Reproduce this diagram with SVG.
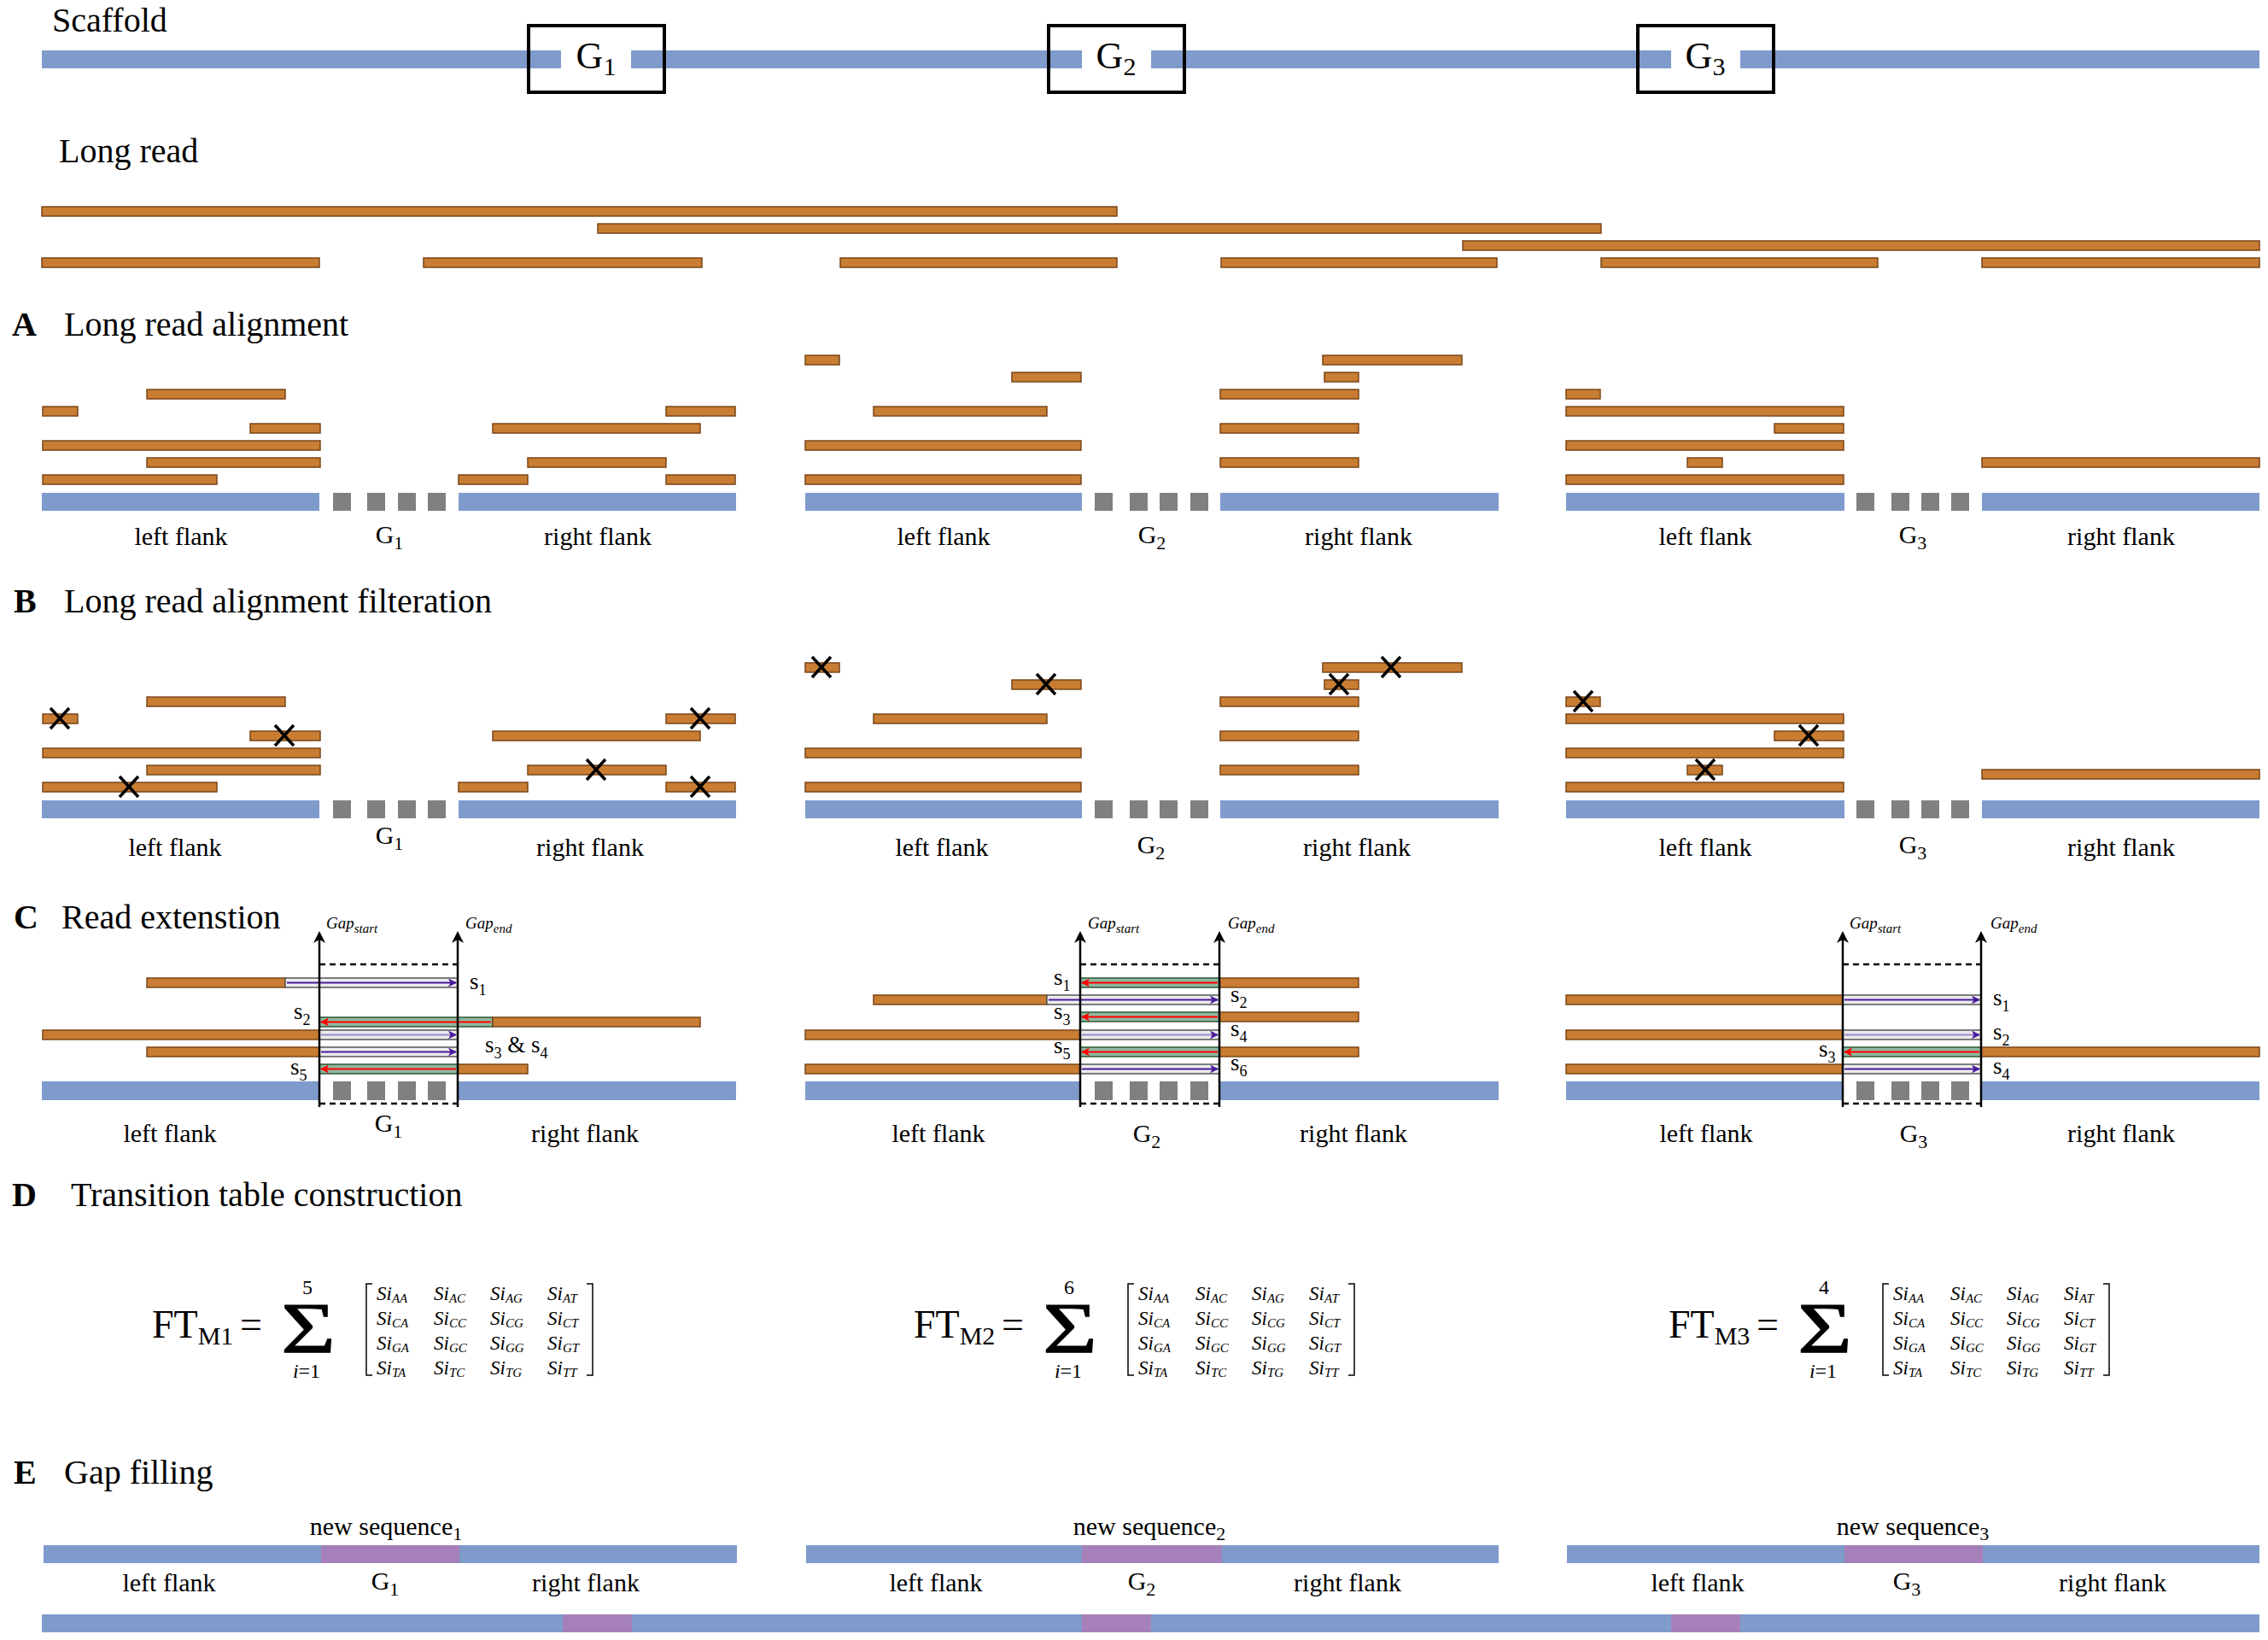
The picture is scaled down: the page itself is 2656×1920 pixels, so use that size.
<svg xmlns="http://www.w3.org/2000/svg" width="2656" height="1920" viewBox="0 0 2656 1920">
<style>
text{font-family:"Liberation Serif","Times New Roman",serif;fill:#000}
.b{fill:#7f9bcc}
.r{fill:#c87d33;stroke:#7a4619;stroke-width:1.5}
.q{fill:#808080}
.p{fill:#a680b8}
.ge{fill:#ececec;stroke:#555;stroke-width:1.5}
.gr{fill:#8fb8a0;stroke:#2c5a34;stroke-width:1.5}
.x{stroke:#000;stroke-width:3.5;fill:none}
.h{font-size:40px}
.hb{font-size:40px;font-weight:bold}
.lb{font-size:30px;text-anchor:middle}
.sub{font-size:22px}
.gl{font-size:19px;font-style:italic}
.gs{font-size:15px;font-style:italic}
.sl{font-size:27px}
.ss{font-size:18px}
.vl{stroke:#000;stroke-width:2.5}
.ds{stroke:#000;stroke-width:2.5;stroke-dasharray:7 5}
.pa{stroke:#4a1a9c;stroke-width:1.8;marker-end:url(#ap)}
.pl{stroke:#a89ad0;stroke-width:2.5;marker-end:url(#ap)}
.ra{stroke:#f00;stroke-width:1.8;marker-end:url(#ar)}
.si{font-size:23px;font-style:italic}
.sis{font-size:15px;font-style:italic}
.br{stroke:#000;stroke-width:1.5;fill:none}
.sg{font-size:84px;text-anchor:middle;stroke:#000;stroke-width:1.2}
</style>
<defs>
<marker id="ap" markerUnits="userSpaceOnUse" markerWidth="10" markerHeight="10" refX="9" refY="5" orient="auto"><path d="M0,0 L10,5 L0,10 L2.5,5 Z" fill="#4a1a9c"/></marker>
<marker id="ar" markerUnits="userSpaceOnUse" markerWidth="10" markerHeight="10" refX="9" refY="5" orient="auto"><path d="M0,0 L10,5 L0,10 L2.5,5 Z" fill="#f00"/></marker>
<path id="xm" d="M-11,-12 L11,12 M-11,12 L11,-12"/>
</defs>
<rect width="2656" height="1920" fill="#fff"/>

<g id="scaffold">
<text class="h" x="61" y="37">Scaffold</text>
<rect class="b" x="49" y="59" width="608" height="21"/>
<rect class="b" x="739" y="59" width="528" height="21"/>
<rect class="b" x="1348" y="59" width="609" height="21"/>
<rect class="b" x="2038" y="59" width="608" height="21"/>
<rect x="619" y="30" width="159" height="78" fill="none" stroke="#000" stroke-width="4"/>
<rect x="1228" y="30" width="159" height="78" fill="none" stroke="#000" stroke-width="4"/>
<rect x="1918" y="30" width="159" height="78" fill="none" stroke="#000" stroke-width="4"/>
<text x="698" y="80" font-size="44" text-anchor="middle">G<tspan font-size="30" dy="8">1</tspan></text>
<text x="1307" y="80" font-size="44" text-anchor="middle">G<tspan font-size="30" dy="8">2</tspan></text>
<text x="1997" y="80" font-size="44" text-anchor="middle">G<tspan font-size="30" dy="8">3</tspan></text>
</g>

<g id="longreads">
<text class="h" x="69" y="190">Long read</text>
<rect class="r" x="49" y="242" width="1259" height="11"/>
<rect class="r" x="700" y="262" width="1175" height="11"/>
<rect class="r" x="1713" y="282" width="933" height="11"/>
<rect class="r" x="49" y="302" width="325" height="11"/>
<rect class="r" x="496" y="302" width="326" height="11"/>
<rect class="r" x="984" y="302" width="324" height="11"/>
<rect class="r" x="1430" y="302" width="323" height="11"/>
<rect class="r" x="1875" y="302" width="324" height="11"/>
<rect class="r" x="2321" y="302" width="325" height="11"/>
</g>

<g id="sectionA">
<text class="hb" x="14" y="393">A</text><text class="h" x="75" y="393">Long read alignment</text>
<g id="A1">
<rect class="b" x="49" y="577" width="325" height="21"/>
<rect class="q" x="390" y="577" width="21" height="21"/><rect class="q" x="430" y="577" width="21" height="21"/><rect class="q" x="466" y="577" width="21" height="21"/><rect class="q" x="501" y="577" width="21" height="21"/>
<rect class="b" x="537" y="577" width="325" height="21"/>
<rect class="r" x="172" y="456" width="162" height="11"/>
<rect class="r" x="50" y="476" width="41" height="11"/>
<rect class="r" x="780" y="476" width="81" height="11"/>
<rect class="r" x="293" y="496" width="82" height="11"/>
<rect class="r" x="577" y="496" width="243" height="11"/>
<rect class="r" x="50" y="516" width="325" height="11"/>
<rect class="r" x="172" y="536" width="203" height="11"/>
<rect class="r" x="618" y="536" width="162" height="11"/>
<rect class="r" x="50" y="556" width="204" height="11"/>
<rect class="r" x="537" y="556" width="81" height="11"/>
<rect class="r" x="780" y="556" width="81" height="11"/>
<text class="lb" x="212" y="638">left flank</text>
<text class="lb" x="456" y="636">G<tspan class="sub" dy="7">1</tspan></text>
<text class="lb" x="700" y="638">right flank</text>
</g>
<g id="A2">
<rect class="b" x="943" y="577" width="324" height="21"/>
<rect class="q" x="1282" y="577" width="21" height="21"/><rect class="q" x="1323" y="577" width="21" height="21"/><rect class="q" x="1358" y="577" width="21" height="21"/><rect class="q" x="1394" y="577" width="21" height="21"/>
<rect class="b" x="1429" y="577" width="326" height="21"/>
<rect class="r" x="943" y="416" width="40" height="11"/>
<rect class="r" x="1549" y="416" width="163" height="11"/>
<rect class="r" x="1185" y="436" width="81" height="11"/>
<rect class="r" x="1551" y="436" width="40" height="11"/>
<rect class="r" x="1429" y="456" width="162" height="11"/>
<rect class="r" x="1023" y="476" width="203" height="11"/>
<rect class="r" x="1429" y="496" width="162" height="11"/>
<rect class="r" x="943" y="516" width="323" height="11"/>
<rect class="r" x="1429" y="536" width="162" height="11"/>
<rect class="r" x="943" y="556" width="323" height="11"/>
<text class="lb" x="1105" y="638">left flank</text>
<text class="lb" x="1349" y="636">G<tspan class="sub" dy="7">2</tspan></text>
<text class="lb" x="1591" y="638">right flank</text>
</g>
<g id="A3">
<rect class="b" x="1834" y="577" width="326" height="21"/>
<rect class="q" x="2174" y="577" width="21" height="21"/><rect class="q" x="2215" y="577" width="21" height="21"/><rect class="q" x="2250" y="577" width="21" height="21"/><rect class="q" x="2285" y="577" width="21" height="21"/>
<rect class="b" x="2321" y="577" width="325" height="21"/>
<rect class="r" x="1834" y="456" width="40" height="11"/>
<rect class="r" x="1834" y="476" width="325" height="11"/>
<rect class="r" x="2078" y="496" width="81" height="11"/>
<rect class="r" x="1834" y="516" width="325" height="11"/>
<rect class="r" x="1976" y="536" width="41" height="11"/>
<rect class="r" x="2321" y="536" width="325" height="11"/>
<rect class="r" x="1834" y="556" width="325" height="11"/>
<text class="lb" x="1997" y="638">left flank</text>
<text class="lb" x="2240" y="636">G<tspan class="sub" dy="7">3</tspan></text>
<text class="lb" x="2484" y="638">right flank</text>
</g>
</g>

<g id="sectionB">
<text class="hb" x="16" y="717">B</text><text class="h" x="75" y="717">Long read alignment filteration</text>
<g id="B1">
<rect class="b" x="49" y="937" width="325" height="21"/>
<rect class="q" x="390" y="937" width="21" height="21"/><rect class="q" x="430" y="937" width="21" height="21"/><rect class="q" x="466" y="937" width="21" height="21"/><rect class="q" x="501" y="937" width="21" height="21"/>
<rect class="b" x="537" y="937" width="325" height="21"/>
<rect class="r" x="172" y="816" width="162" height="11"/>
<rect class="r" x="50" y="836" width="41" height="11"/>
<rect class="r" x="780" y="836" width="81" height="11"/>
<rect class="r" x="293" y="856" width="82" height="11"/>
<rect class="r" x="577" y="856" width="243" height="11"/>
<rect class="r" x="50" y="876" width="325" height="11"/>
<rect class="r" x="172" y="896" width="203" height="11"/>
<rect class="r" x="618" y="896" width="162" height="11"/>
<rect class="r" x="50" y="916" width="204" height="11"/>
<rect class="r" x="537" y="916" width="81" height="11"/>
<rect class="r" x="780" y="916" width="81" height="11"/>
<use href="#xm" class="x" x="70" y="841"/>
<use href="#xm" class="x" x="333" y="861"/>
<use href="#xm" class="x" x="151" y="921"/>
<use href="#xm" class="x" x="820" y="841"/>
<use href="#xm" class="x" x="698" y="901"/>
<use href="#xm" class="x" x="820" y="921"/>
<text class="lb" x="205" y="1002">left flank</text>
<text class="lb" x="456" y="988">G<tspan class="sub" dy="7">1</tspan></text>
<text class="lb" x="691" y="1002">right flank</text>
</g>
<g id="B2">
<rect class="b" x="943" y="937" width="324" height="21"/>
<rect class="q" x="1282" y="937" width="21" height="21"/><rect class="q" x="1323" y="937" width="21" height="21"/><rect class="q" x="1358" y="937" width="21" height="21"/><rect class="q" x="1394" y="937" width="21" height="21"/>
<rect class="b" x="1429" y="937" width="326" height="21"/>
<rect class="r" x="943" y="776" width="40" height="11"/>
<rect class="r" x="1549" y="776" width="163" height="11"/>
<rect class="r" x="1185" y="796" width="81" height="11"/>
<rect class="r" x="1551" y="796" width="40" height="11"/>
<rect class="r" x="1429" y="816" width="162" height="11"/>
<rect class="r" x="1023" y="836" width="203" height="11"/>
<rect class="r" x="1429" y="856" width="162" height="11"/>
<rect class="r" x="943" y="876" width="323" height="11"/>
<rect class="r" x="1429" y="896" width="162" height="11"/>
<rect class="r" x="943" y="916" width="323" height="11"/>
<use href="#xm" class="x" x="962" y="781"/>
<use href="#xm" class="x" x="1225" y="801"/>
<use href="#xm" class="x" x="1629" y="781"/>
<use href="#xm" class="x" x="1568" y="801"/>
<text class="lb" x="1103" y="1002">left flank</text>
<text class="lb" x="1348" y="999">G<tspan class="sub" dy="7">2</tspan></text>
<text class="lb" x="1589" y="1002">right flank</text>
</g>
<g id="B3">
<rect class="b" x="1834" y="937" width="326" height="21"/>
<rect class="q" x="2174" y="937" width="21" height="21"/><rect class="q" x="2215" y="937" width="21" height="21"/><rect class="q" x="2250" y="937" width="21" height="21"/><rect class="q" x="2285" y="937" width="21" height="21"/>
<rect class="b" x="2321" y="937" width="325" height="21"/>
<rect class="r" x="1834" y="816" width="40" height="11"/>
<rect class="r" x="1834" y="836" width="325" height="11"/>
<rect class="r" x="2078" y="856" width="81" height="11"/>
<rect class="r" x="1834" y="876" width="325" height="11"/>
<rect class="r" x="1976" y="896" width="41" height="11"/>
<rect class="r" x="2321" y="901" width="325" height="11"/>
<rect class="r" x="1834" y="916" width="325" height="11"/>
<use href="#xm" class="x" x="1854" y="821"/>
<use href="#xm" class="x" x="2118" y="861"/>
<use href="#xm" class="x" x="1997" y="901"/>
<text class="lb" x="1997" y="1002">left flank</text>
<text class="lb" x="2240" y="999">G<tspan class="sub" dy="7">3</tspan></text>
<text class="lb" x="2484" y="1002">right flank</text>
</g>
</g>

<g id="sectionC">
<text class="hb" x="16" y="1087">C</text><text class="h" x="72" y="1087">Read extenstion</text>
<g id="C1">
<rect class="b" x="49" y="1266" width="325" height="22"/>
<rect class="q" x="390" y="1266" width="21" height="22"/><rect class="q" x="430" y="1266" width="21" height="22"/><rect class="q" x="466" y="1266" width="21" height="22"/><rect class="q" x="501" y="1266" width="21" height="22"/>
<rect class="b" x="536" y="1266" width="326" height="22"/>
<rect class="r" x="172" y="1145" width="162" height="11"/><rect class="ge" x="334" y="1145" width="202" height="11"/>
<rect class="gr" x="374" y="1191" width="203" height="11"/><rect class="r" x="577" y="1191" width="243" height="11"/>
<rect class="r" x="50" y="1206" width="324" height="11"/><rect class="ge" x="374" y="1206" width="162" height="11"/>
<rect class="r" x="172" y="1226" width="202" height="11"/><rect class="ge" x="374" y="1226" width="162" height="11"/>
<rect class="gr" x="374" y="1246" width="162" height="11"/><rect class="r" x="536" y="1246" width="82" height="11"/>
<text class="sl" x="550" y="1158">s<tspan class="ss" dy="7">1</tspan></text>
<text class="sl" x="344" y="1193">s<tspan class="ss" dy="7">2</tspan></text>
<text class="sl" x="568" y="1232">s<tspan class="ss" dy="7">3</tspan><tspan dy="-7"> &amp; s</tspan><tspan class="ss" dy="7">4</tspan></text>
<text class="sl" x="340" y="1258">s<tspan class="ss" dy="7">5</tspan></text>
<text class="gl" x="382" y="1087">Gap<tspan class="gs" dy="5">start</tspan></text>
<text class="gl" x="545" y="1087">Gap<tspan class="gs" dy="5">end</tspan></text>
<text class="lb" x="199" y="1337">left flank</text>
<text class="lb" x="455" y="1325">G<tspan class="sub" dy="7">1</tspan></text>
<text class="lb" x="685" y="1337">right flank</text>
</g>
<g id="C2">
<rect class="b" x="943" y="1266" width="322" height="22"/>
<rect class="q" x="1282" y="1266" width="21" height="22"/><rect class="q" x="1323" y="1266" width="21" height="22"/><rect class="q" x="1358" y="1266" width="21" height="22"/><rect class="q" x="1394" y="1266" width="21" height="22"/>
<rect class="b" x="1428" y="1266" width="327" height="22"/>
<rect class="gr" x="1265" y="1145" width="163" height="11"/><rect class="r" x="1428" y="1145" width="163" height="11"/>
<rect class="r" x="1023" y="1165" width="203" height="11"/><rect class="ge" x="1226" y="1165" width="202" height="11"/>
<rect class="gr" x="1265" y="1185" width="163" height="11"/><rect class="r" x="1428" y="1185" width="163" height="11"/>
<rect class="r" x="943" y="1206" width="322" height="11"/><rect class="ge" x="1265" y="1206" width="163" height="11"/>
<rect class="gr" x="1265" y="1226" width="163" height="11"/><rect class="r" x="1428" y="1226" width="163" height="11"/>
<rect class="r" x="943" y="1246" width="322" height="11"/><rect class="ge" x="1265" y="1246" width="163" height="11"/>
<text class="sl" x="1234" y="1153">s<tspan class="ss" dy="7">1</tspan></text>
<text class="sl" x="1441" y="1173">s<tspan class="ss" dy="7">2</tspan></text>
<text class="sl" x="1234" y="1193">s<tspan class="ss" dy="7">3</tspan></text>
<text class="sl" x="1441" y="1213">s<tspan class="ss" dy="7">4</tspan></text>
<text class="sl" x="1234" y="1233">s<tspan class="ss" dy="7">5</tspan></text>
<text class="sl" x="1441" y="1253">s<tspan class="ss" dy="7">6</tspan></text>
<text class="gl" x="1274" y="1087">Gap<tspan class="gs" dy="5">start</tspan></text>
<text class="gl" x="1438" y="1087">Gap<tspan class="gs" dy="5">end</tspan></text>
<text class="lb" x="1099" y="1337">left flank</text>
<text class="lb" x="1343" y="1337">G<tspan class="sub" dy="7">2</tspan></text>
<text class="lb" x="1585" y="1337">right flank</text>
</g>
<g id="C3">
<rect class="b" x="1834" y="1266" width="324" height="22"/>
<rect class="q" x="2174" y="1266" width="21" height="22"/><rect class="q" x="2215" y="1266" width="21" height="22"/><rect class="q" x="2250" y="1266" width="21" height="22"/><rect class="q" x="2285" y="1266" width="21" height="22"/>
<rect class="b" x="2320" y="1266" width="326" height="22"/>
<rect class="r" x="1834" y="1165" width="324" height="11"/><rect class="ge" x="2158" y="1165" width="162" height="11"/>
<rect class="r" x="1834" y="1206" width="324" height="11"/><rect class="ge" x="2158" y="1206" width="162" height="11"/>
<rect class="gr" x="2158" y="1226" width="162" height="11"/><rect class="r" x="2320" y="1226" width="326" height="11"/>
<rect class="r" x="1834" y="1246" width="324" height="11"/><rect class="ge" x="2158" y="1246" width="162" height="11"/>
<text class="sl" x="2334" y="1177">s<tspan class="ss" dy="7">1</tspan></text>
<text class="sl" x="2334" y="1217">s<tspan class="ss" dy="7">2</tspan></text>
<text class="sl" x="2130" y="1237">s<tspan class="ss" dy="7">3</tspan></text>
<text class="sl" x="2334" y="1257">s<tspan class="ss" dy="7">4</tspan></text>
<text class="gl" x="2166" y="1087">Gap<tspan class="gs" dy="5">start</tspan></text>
<text class="gl" x="2331" y="1087">Gap<tspan class="gs" dy="5">end</tspan></text>
<text class="lb" x="1998" y="1337">left flank</text>
<text class="lb" x="2241" y="1337">G<tspan class="sub" dy="7">3</tspan></text>
<text class="lb" x="2484" y="1337">right flank</text>
</g>
</g>

<g id="connectors">
<line class="pa" x1="336" y1="1150.5" x2="534" y2="1150.5"/>
<line class="ra" x1="575" y1="1196.5" x2="376" y2="1196.5"/>
<line class="pl" x1="376" y1="1211.5" x2="534" y2="1211.5"/>
<line class="pa" x1="376" y1="1231.5" x2="534" y2="1231.5"/>
<line class="ra" x1="534" y1="1251.5" x2="376" y2="1251.5"/>
<line class="ra" x1="1426" y1="1150.5" x2="1267" y2="1150.5"/>
<line class="pa" x1="1228" y1="1170.5" x2="1426" y2="1170.5"/>
<line class="ra" x1="1426" y1="1190.5" x2="1267" y2="1190.5"/>
<line class="pl" x1="1267" y1="1211.5" x2="1426" y2="1211.5"/>
<line class="ra" x1="1426" y1="1231.5" x2="1267" y2="1231.5"/>
<line class="pa" x1="1267" y1="1251.5" x2="1426" y2="1251.5"/>
<line class="pa" x1="2160" y1="1170.5" x2="2318" y2="1170.5"/>
<line class="pl" x1="2160" y1="1211.5" x2="2318" y2="1211.5"/>
<line class="ra" x1="2318" y1="1231.5" x2="2160" y2="1231.5"/>
<line class="pa" x1="2160" y1="1251.5" x2="2318" y2="1251.5"/>
<line class="ds" x1="374" y1="1129" x2="536" y2="1129"/><line class="ds" x1="374" y1="1292" x2="536" y2="1292"/>
<line class="ds" x1="1265" y1="1129" x2="1428" y2="1129"/><line class="ds" x1="1265" y1="1292" x2="1428" y2="1292"/>
<line class="ds" x1="2158" y1="1129" x2="2320" y2="1129"/><line class="ds" x1="2158" y1="1292" x2="2320" y2="1292"/>
<line class="vl" x1="374" y1="1296" x2="374" y2="1098"/><path d="M374,1090 L367,1104 L374,1100 L381,1104 Z"/>
<line class="vl" x1="536" y1="1296" x2="536" y2="1098"/><path d="M536,1090 L529,1104 L536,1100 L543,1104 Z"/>
<line class="vl" x1="1265" y1="1296" x2="1265" y2="1098"/><path d="M1265,1090 L1258,1104 L1265,1100 L1272,1104 Z"/>
<line class="vl" x1="1428" y1="1296" x2="1428" y2="1098"/><path d="M1428,1090 L1421,1104 L1428,1100 L1435,1104 Z"/>
<line class="vl" x1="2158" y1="1296" x2="2158" y2="1098"/><path d="M2158,1090 L2151,1104 L2158,1100 L2165,1104 Z"/>
<line class="vl" x1="2320" y1="1296" x2="2320" y2="1098"/><path d="M2320,1090 L2313,1104 L2320,1100 L2327,1104 Z"/>
</g>

<g id="sectionD">
<text class="hb" x="14" y="1412">D</text><text class="h" x="83" y="1412">Transition table construction</text>
<g id="D1">
<text x="178" y="1566" font-size="46">FT<tspan font-size="30" dy="8">M1</tspan></text>
<text x="281" y="1566" font-size="46">=</text>
<text class="sg" transform="translate(361,1584) scale(1.3,1)">Σ</text>
<text x="360" y="1515" font-size="24" text-anchor="middle">5</text>
<text x="359" y="1613" font-size="24" text-anchor="middle"><tspan font-style="italic">i</tspan>=1</text>
<path class="br" d="M436,1503 H429 V1610 H436 M687,1503 H694 V1610 H687"/>
<text class="si" x="441" y="1522">Si<tspan class="sis" dy="3">AA</tspan></text><text class="si" x="508" y="1522">Si<tspan class="sis" dy="3">AC</tspan></text><text class="si" x="574" y="1522">Si<tspan class="sis" dy="3">AG</tspan></text><text class="si" x="641" y="1522">Si<tspan class="sis" dy="3">AT</tspan></text>
<text class="si" x="441" y="1551">Si<tspan class="sis" dy="3">CA</tspan></text><text class="si" x="508" y="1551">Si<tspan class="sis" dy="3">CC</tspan></text><text class="si" x="574" y="1551">Si<tspan class="sis" dy="3">CG</tspan></text><text class="si" x="641" y="1551">Si<tspan class="sis" dy="3">CT</tspan></text>
<text class="si" x="441" y="1580">Si<tspan class="sis" dy="3">GA</tspan></text><text class="si" x="508" y="1580">Si<tspan class="sis" dy="3">GC</tspan></text><text class="si" x="574" y="1580">Si<tspan class="sis" dy="3">GG</tspan></text><text class="si" x="641" y="1580">Si<tspan class="sis" dy="3">GT</tspan></text>
<text class="si" x="441" y="1609">Si<tspan class="sis" dy="3">TA</tspan></text><text class="si" x="508" y="1609">Si<tspan class="sis" dy="3">TC</tspan></text><text class="si" x="574" y="1609">Si<tspan class="sis" dy="3">TG</tspan></text><text class="si" x="641" y="1609">Si<tspan class="sis" dy="3">TT</tspan></text>
</g>
<g id="D2" transform="translate(892,0)">
<text x="178" y="1566" font-size="46">FT<tspan font-size="30" dy="8">M2</tspan></text>
<text x="281" y="1566" font-size="46">=</text>
<text class="sg" transform="translate(361,1584) scale(1.3,1)">Σ</text>
<text x="360" y="1515" font-size="24" text-anchor="middle">6</text>
<text x="359" y="1613" font-size="24" text-anchor="middle"><tspan font-style="italic">i</tspan>=1</text>
<path class="br" d="M436,1503 H429 V1610 H436 M687,1503 H694 V1610 H687"/>
<text class="si" x="441" y="1522">Si<tspan class="sis" dy="3">AA</tspan></text><text class="si" x="508" y="1522">Si<tspan class="sis" dy="3">AC</tspan></text><text class="si" x="574" y="1522">Si<tspan class="sis" dy="3">AG</tspan></text><text class="si" x="641" y="1522">Si<tspan class="sis" dy="3">AT</tspan></text>
<text class="si" x="441" y="1551">Si<tspan class="sis" dy="3">CA</tspan></text><text class="si" x="508" y="1551">Si<tspan class="sis" dy="3">CC</tspan></text><text class="si" x="574" y="1551">Si<tspan class="sis" dy="3">CG</tspan></text><text class="si" x="641" y="1551">Si<tspan class="sis" dy="3">CT</tspan></text>
<text class="si" x="441" y="1580">Si<tspan class="sis" dy="3">GA</tspan></text><text class="si" x="508" y="1580">Si<tspan class="sis" dy="3">GC</tspan></text><text class="si" x="574" y="1580">Si<tspan class="sis" dy="3">GG</tspan></text><text class="si" x="641" y="1580">Si<tspan class="sis" dy="3">GT</tspan></text>
<text class="si" x="441" y="1609">Si<tspan class="sis" dy="3">TA</tspan></text><text class="si" x="508" y="1609">Si<tspan class="sis" dy="3">TC</tspan></text><text class="si" x="574" y="1609">Si<tspan class="sis" dy="3">TG</tspan></text><text class="si" x="641" y="1609">Si<tspan class="sis" dy="3">TT</tspan></text>
</g>
<g id="D3" transform="translate(1776,0)">
<text x="178" y="1566" font-size="46">FT<tspan font-size="30" dy="8">M3</tspan></text>
<text x="281" y="1566" font-size="46">=</text>
<text class="sg" transform="translate(361,1584) scale(1.3,1)">Σ</text>
<text x="360" y="1515" font-size="24" text-anchor="middle">4</text>
<text x="359" y="1613" font-size="24" text-anchor="middle"><tspan font-style="italic">i</tspan>=1</text>
<path class="br" d="M436,1503 H429 V1610 H436 M687,1503 H694 V1610 H687"/>
<text class="si" x="441" y="1522">Si<tspan class="sis" dy="3">AA</tspan></text><text class="si" x="508" y="1522">Si<tspan class="sis" dy="3">AC</tspan></text><text class="si" x="574" y="1522">Si<tspan class="sis" dy="3">AG</tspan></text><text class="si" x="641" y="1522">Si<tspan class="sis" dy="3">AT</tspan></text>
<text class="si" x="441" y="1551">Si<tspan class="sis" dy="3">CA</tspan></text><text class="si" x="508" y="1551">Si<tspan class="sis" dy="3">CC</tspan></text><text class="si" x="574" y="1551">Si<tspan class="sis" dy="3">CG</tspan></text><text class="si" x="641" y="1551">Si<tspan class="sis" dy="3">CT</tspan></text>
<text class="si" x="441" y="1580">Si<tspan class="sis" dy="3">GA</tspan></text><text class="si" x="508" y="1580">Si<tspan class="sis" dy="3">GC</tspan></text><text class="si" x="574" y="1580">Si<tspan class="sis" dy="3">GG</tspan></text><text class="si" x="641" y="1580">Si<tspan class="sis" dy="3">GT</tspan></text>
<text class="si" x="441" y="1609">Si<tspan class="sis" dy="3">TA</tspan></text><text class="si" x="508" y="1609">Si<tspan class="sis" dy="3">TC</tspan></text><text class="si" x="574" y="1609">Si<tspan class="sis" dy="3">TG</tspan></text><text class="si" x="641" y="1609">Si<tspan class="sis" dy="3">TT</tspan></text>
</g>
</g>

<g id="sectionE">
<text class="hb" x="16" y="1737">E</text><text class="h" x="75" y="1737">Gap filling</text>
<g id="E1">
<rect class="b" x="51" y="1809" width="325" height="21"/><rect class="p" x="376" y="1809" width="162" height="21"/><rect class="b" x="538" y="1809" width="325" height="21"/>
<text class="lb" x="452" y="1797">new sequence<tspan class="sub" dy="6">1</tspan></text>
<text class="lb" x="198" y="1863">left flank</text>
<text class="lb" x="451" y="1861">G<tspan class="sub" dy="7">1</tspan></text>
<text class="lb" x="686" y="1863">right flank</text>
</g>
<g id="E2">
<rect class="b" x="944" y="1809" width="323" height="21"/><rect class="p" x="1267" y="1809" width="164" height="21"/><rect class="b" x="1431" y="1809" width="324" height="21"/>
<text class="lb" x="1346" y="1797">new sequence<tspan class="sub" dy="6">2</tspan></text>
<text class="lb" x="1096" y="1863">left flank</text>
<text class="lb" x="1337" y="1861">G<tspan class="sub" dy="7">2</tspan></text>
<text class="lb" x="1578" y="1863">right flank</text>
</g>
<g id="E3">
<rect class="b" x="1835" y="1809" width="325" height="21"/><rect class="p" x="2160" y="1809" width="162" height="21"/><rect class="b" x="2322" y="1809" width="324" height="21"/>
<text class="lb" x="2240" y="1797">new sequence<tspan class="sub" dy="6">3</tspan></text>
<text class="lb" x="1988" y="1863">left flank</text>
<text class="lb" x="2233" y="1861">G<tspan class="sub" dy="7">3</tspan></text>
<text class="lb" x="2474" y="1863">right flank</text>
</g>
<g id="Efinal">
<rect class="b" x="49" y="1890" width="2597" height="21"/>
<rect class="p" x="659" y="1890" width="81" height="21"/>
<rect class="p" x="1267" y="1890" width="81" height="21"/>
<rect class="p" x="1957" y="1890" width="81" height="21"/>
</g>
</g>
</svg>
